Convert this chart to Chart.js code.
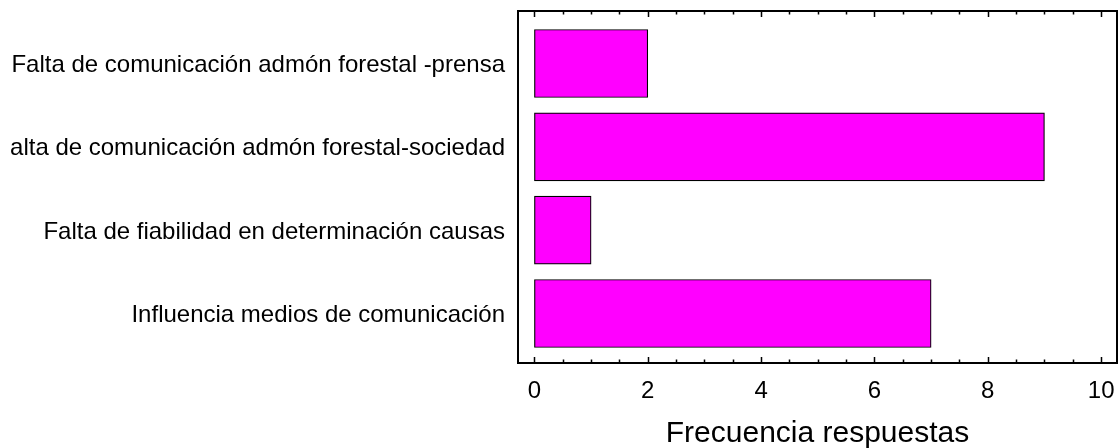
<!DOCTYPE html>
<html>
<head>
<meta charset="utf-8">
<script src="https://cdn.jsdelivr.net/npm/chart.js@4/dist/chart.umd.min.js"></script>
<style>
  html, body { margin: 0; padding: 0; background: #fff; }
  #wrap { width: 1120px; height: 448px; }
</style>
</head>
<body>
<div id="wrap"><canvas id="chartFreq"></canvas></div>
<script>
'use strict';

// ── Data ──
// (second label really starts with "alta" in the original figure)
const categories = [
    'Falta de comunicación admón forestal -prensa',
    'alta de comunicación admón forestal-sociedad',
    'Falta de fiabilidad en determinación causas',
    'Influencia medios de comunicación'
];
const frequencies = [2, 9, 1, 7];
const xTickValues = [0, 2, 4, 6, 8, 10];
const xMinorValues = [0.5, 1, 1.5, 2.5, 3, 3.5, 4.5, 5, 5.5, 6.5, 7, 7.5, 8.5, 9, 9.5];
const xTitle = 'Frecuencia respuestas';

const FONT = '"Liberation Sans", Arial, Helvetica, sans-serif';

// Box frame + inward ticks on top and bottom, like the original plot
const frameTicks = {
    id: 'frameTicks',
    afterDraw(chart) {
        const { ctx, chartArea: a, scales } = chart;
        const xs = scales.x;
        ctx.save();
        ctx.strokeStyle = '#000';
        ctx.lineWidth = 1.5;
        const tick = (v, len) => {
            const px = Math.round(xs.getPixelForValue(v)) + 0.5;
            ctx.beginPath();
            ctx.moveTo(px, a.top); ctx.lineTo(px, a.top + len);
            ctx.moveTo(px, a.bottom); ctx.lineTo(px, a.bottom - len);
            ctx.stroke();
        };
        xTickValues.forEach(v => tick(v, 6));
        xMinorValues.forEach(v => tick(v, 3.5));
        ctx.lineWidth = 2;
        ctx.strokeRect(a.left, a.top, a.right - a.left, a.bottom - a.top);
        ctx.restore();
    }
};

new Chart(document.getElementById('chartFreq'), {
    type: 'bar',
    data: {
        datasets: [{
            data: categories.map((c, i) => ({ x: frequencies[i], y: i })),
            backgroundColor: '#ff00ff',
            borderColor: '#000',
            borderWidth: 1.2,
            borderSkipped: false,
            barThickness: 68
        }]
    },
    options: {
        indexAxis: 'y',
        responsive: true,
        maintainAspectRatio: false,
        animation: false,
        layout: { padding: { top: 11, right: 3, left: 0, bottom: 0 } },
        plugins: { legend: { display: false }, tooltip: { enabled: false } },
        scales: {
            x: {
                type: 'linear',
                min: -0.29,
                max: 10.28,
                grid: { display: false, drawTicks: false },
                border: { display: false },
                afterBuildTicks: s => { s.ticks = xTickValues.map(v => ({ value: v })); },
                afterFit: s => { s.height = 85; s.paddingLeft = 0; s.paddingRight = 0; },
                ticks: { color: '#000', padding: 14, font: { family: FONT, size: 24 } },
                title: {
                    display: true,
                    text: xTitle,
                    color: '#000',
                    padding: { top: 0, bottom: -4 },
                    font: { family: FONT, size: 30 }
                }
            },
            y: {
                type: 'linear',
                reverse: true,
                offset: false,
                min: -0.63,
                max: 3.594,
                grid: { display: false, drawTicks: false, offset: false },
                border: { display: false },
                afterBuildTicks: s => { s.ticks = categories.map((c, i) => ({ value: i })); },
                afterFit: s => { s.width = 518; s.paddingTop = 0; s.paddingBottom = 0; },
                ticks: {
                    color: '#000',
                    padding: 13,
                    labelOffset: 2,
                    autoSkip: false,
                    font: { family: FONT, size: 24 },
                    callback: v => categories[v]
                }
            }
        }
    },
    plugins: [frameTicks]
});
</script>
</body>
</html>
